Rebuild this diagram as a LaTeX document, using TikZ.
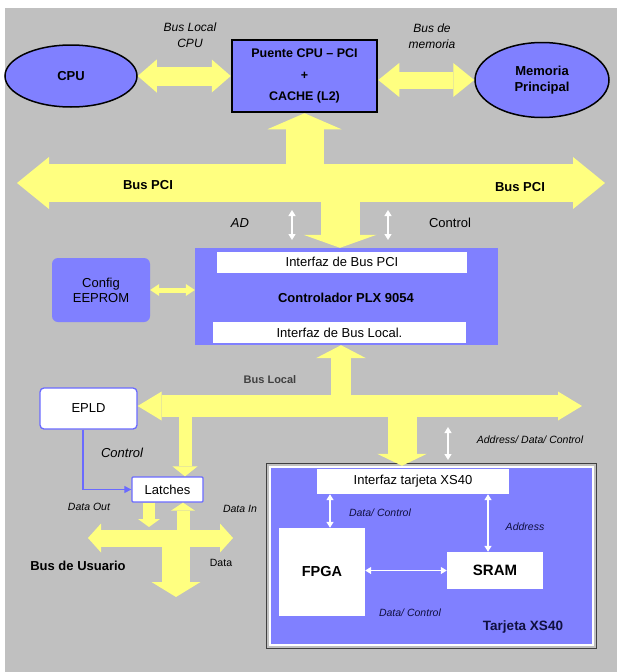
\documentclass[tikz,border=0pt]{standalone}
\usepackage{fontspec}
\setmainfont{Liberation Sans}
\usetikzlibrary{arrows.meta}
\usetikzlibrary{shapes.geometric}

\definecolor{fondo}{HTML}{C0C0C0}
\definecolor{lila}{HTML}{8080FF}
\definecolor{amarillo}{HTML}{FFFF80}
\definecolor{azul}{HTML}{6A6AFF}
\definecolor{marino}{HTML}{101040}

\tikzset{
  elipse/.style={ellipse, draw, line width=1.5pt, fill=lila, inner sep=0pt, align=center,
    font=\fontsize{13}{16}\selectfont\bfseries},
  bloque/.style={fill=lila, inner sep=0pt, align=center, font=\fontsize{13}{15}\selectfont},
  blanco/.style={fill=white, inner sep=0pt, align=center, font=\fontsize{13}{15}\selectfont},
  caja/.style={fill=white, draw=azul, line width=1.3pt, inner sep=0pt, font=\fontsize{13}{15}\selectfont},
  etiq/.style={inner sep=0pt, align=center, font=\fontsize{12}{16}\selectfont\itshape},
  chica/.style={inner sep=0pt, font=\fontsize{10.5}{12}\selectfont\itshape},
  negrita/.style={inner sep=0pt, font=\fontsize{13}{15}\selectfont\bfseries},
  flecha/.style n args={3}{draw=amarillo, line width=#1,
    -{Triangle[width=#2, length=#3, line width=0pt]}},
  dflecha/.style n args={3}{draw=amarillo, line width=#1,
    {Triangle[width=#2, length=#3, line width=0pt]}-{Triangle[width=#2, length=#3, line width=0pt]}},
  fina/.style={draw=white, line width=1.3pt,
    {Triangle[width=7pt, length=6pt]}-{Triangle[width=7pt, length=6pt]}},
}

\begin{document}
\begin{tikzpicture}[x=1pt,y=-1pt]
  \useasboundingbox (0,0) rectangle (617,672);
  \fill[fondo] (5,8) rectangle (617,672);

  \node[elipse, minimum width=132pt, minimum height=62pt] (cpu) at (71,76) {CPU};
  \node[bloque, draw, line width=2.5pt, minimum width=145pt, minimum height=72pt,
    font=\fontsize{12.5}{21.5}\selectfont\bfseries] (puente) at (304.5,76)
    {Puente CPU -- PCI\\+\\CACHE (L2)};
  \node[elipse, minimum width=134pt, minimum height=75pt] (memoria) at (542,80) {Memoria\\Principal};
  \node[etiq] (lblcpu) at (190,35) {Bus Local\\CPU};
  \node[etiq] (lblmem) at (432,36) {Bus de\\memoria};

  \node[bloque, minimum width=303pt, minimum height=97pt] (plx) at (346.5,296.5) {};
  \node[blanco, minimum width=250pt, minimum height=21pt] (pciif) at (342,262) {Interfaz de Bus PCI};
  \node[negrita] (plxtxt) at (346,298) {Controlador PLX 9054};
  \node[blanco, minimum width=253pt, minimum height=21pt] (localif) at (339.5,332.5) {Interfaz de Bus Local.};
  \node[bloque, rounded corners=6pt, minimum width=98pt, minimum height=64pt] (eeprom) at (101,290) {Config\\EEPROM};

  \node[etiq, font=\fontsize{13}{15}\selectfont\itshape] (lblad) at (240,223) {AD};
  \node[etiq, font=\fontsize{13}{15}\selectfont] (lblctrl) at (450,223) {Control};

  \node[caja, rounded corners=4pt, minimum width=97pt, minimum height=41pt] (epld) at (88.5,408.5) {EPLD};
  \node[caja, rounded corners=1pt, minimum width=71pt, minimum height=25pt] (latches) at (167.5,489.5) {Latches};
  \node[negrita, font=\fontsize{11}{13}\selectfont\bfseries, text=black!75] (lblbl) at (270,380) {Bus Local};
  \node[etiq, font=\fontsize{13}{15}\selectfont\itshape] (lblctrl2) at (122,453) {Control};
  \node[chica] (lblout) at (89,507) {Data Out};
  \node[chica] (lblin) at (240,509) {Data In};
  \node[negrita] (lblusu) at (78,566) {Bus de Usuario};
  \node[chica, font=\fontsize{10.5}{12}\selectfont] (lbldata) at (221,563) {Data};
  \node[chica] (lbladc) at (530,440) {Address/ Data/ Control};

  \node[bloque, draw=white, line width=2.5pt, minimum width=323pt, minimum height=178pt] (tarjeta) at (431.5,556) {};
  \draw[black!75, line width=1pt] ([xshift=-2pt,yshift=2pt]tarjeta.north west) rectangle ([xshift=2pt,yshift=-2pt]tarjeta.south east);
  \node[blanco, minimum width=192pt, minimum height=25pt] (xsif) at (413,481.5) {Interfaz tarjeta XS40};
  \node[blanco, minimum width=86pt, minimum height=88pt, font=\fontsize{14.5}{16}\selectfont\bfseries] (fpga) at (322,572) {FPGA};
  \node[blanco, minimum width=96pt, minimum height=37pt, font=\fontsize{15}{17}\selectfont\bfseries] (sram) at (495,570.5) {SRAM};
  \node[chica, text=marino] (lbldc1) at (380,513) {Data/ Control};
  \node[chica, text=marino] (lbladdr) at (525,527) {Address};
  \node[chica, text=marino] (lbldc2) at (410,613) {Data/ Control};
  \node[negrita, font=\fontsize{13.5}{15}\selectfont\bfseries, text=marino] (lbltar) at (523,627) {Tarjeta XS40};

  \coordinate (pciL) at (17,183);
  \coordinate (pciR) at (605,183);
  \coordinate (pciA) at (304.5,183);
  \coordinate (pciB) at (340,183);
  \coordinate (ad1) at (292,210);
  \coordinate (ad2) at (292,240);
  \coordinate (ct1) at (388,210);
  \coordinate (ct2) at (388,240);
  \coordinate (lbR) at (582,406);
  \coordinate (lbA) at (341,406);
  \coordinate (lbB) at (185,406);
  \coordinate (lbC) at (402,406);
  \coordinate (adc1) at (448,427);
  \coordinate (adc2) at (448,460);
  \coordinate (usA) at (149,527);
  \coordinate (usL) at (88,538);
  \coordinate (usR) at (233,538);
  \coordinate (usB) at (183,538);
  \coordinate (usC) at (176,538);
  \coordinate (usD) at (176,597);

  \draw[dflecha={19pt}{33pt}{19pt}] (cpu.east) -- (puente.west);
  \draw[dflecha={17pt}{34pt}{21pt}] (puente.east |- memoria.west) -- (memoria.west);
  \draw[dflecha={38pt}{52pt}{32pt}] (pciL) -- (pciR);
  \draw[flecha={38pt}{74pt}{16pt}] (pciA) -- (puente.south);
  \draw[flecha={39pt}{73pt}{13pt}] (pciB) -- (pciB |- plx.north);
  \draw[fina] (ad1) -- (ad2);
  \draw[fina] (ct1) -- (ct2);
  \draw[dflecha={5pt}{12pt}{9pt}] (eeprom.east) -- (eeprom.east -| plx.west);
  \node[negrita] (pci1) at (148,185) {Bus PCI};
  \node[negrita] (pci2) at (520,187) {Bus PCI};

  \draw[dflecha={22pt}{29pt}{24pt}] (lbR) -- (lbR -| epld.east);
  \draw[flecha={20pt}{50pt}{13pt}] (lbA) -- (lbA |- plx.south);
  \draw[flecha={13pt}{25pt}{10pt}] (lbB) -- (lbB |- latches.north);
  \draw[flecha={29pt}{50pt}{12pt}] (lbC) -- (lbC |- tarjeta.north);
  \draw[fina] (adc1) -- (adc2);
  \draw[azul, line width=1.2pt, -{Triangle[width=7pt, length=7pt]}] ([xshift=-5.5pt]epld.south) |- (latches.west);

  \draw[flecha={12pt}{22pt}{8pt}] (latches.south -| usA) -- (usA);
  \draw[dflecha={17pt}{29pt}{13pt}] (usL) -- (usR);
  \draw[flecha={13pt}{24pt}{8pt}] (usB) -- (usB |- latches.south);
  \draw[flecha={28pt}{49pt}{15pt}] (usC) -- (usD);

  \draw[fina] ([xshift=8pt]fpga.north) -- ([xshift=8pt]fpga.north |- xsif.south);
  \draw[fina] ([xshift=-7pt]sram.north) -- ([xshift=-7pt]sram.north |- xsif.south);
  \draw[fina] (fpga.east |- sram) -- (sram.west);
\end{tikzpicture}
\end{document}
